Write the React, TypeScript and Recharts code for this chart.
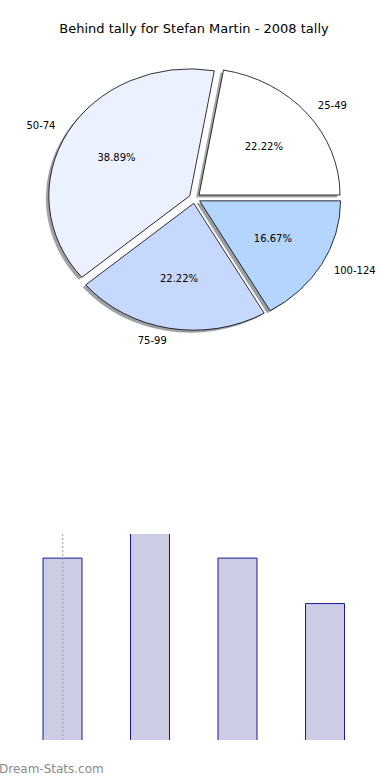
import React from "react";
import { PieChart, Pie, Cell, BarChart, Bar, XAxis, YAxis, ReferenceLine } from "recharts";

const TITLE = "Behind tally for Stefan Martin - 2008 tally";
const categories = ["25-49", "50-74", "75-99", "100-124"];
const counts = [4, 7, 4, 3];
const sliceColors = ["#ffffff", "#ebf1fe", "#c6d8fe", "#b4d5fe"];
const barMax = 4.53;

const pieData = categories.map((name, i) => ({ name, value: counts[i] }));

const FONT = "DejaVu Sans, sans-serif";
const RY = 0.9; // pie is squashed vertically
const EXPLODE = 0.04;
const RAD = Math.PI / 180;

function shade(hex: string) {
  const n = parseInt(hex.slice(1), 16);
  const r = Math.round(((n >> 16) & 255) * 0.3);
  const g = Math.round(((n >> 8) & 255) * 0.3);
  const b = Math.round((n & 255) * 0.3);
  return `rgb(${r},${g},${b})`;
}

function wedgePath(ox: number, oy: number, rx: number, ry: number, a0: number, a1: number) {
  const p = (a: number) => [ox + rx * Math.cos(a * RAD), oy - ry * Math.sin(a * RAD)];
  const [x0, y0] = p(a0);
  const [x1, y1] = p(a1);
  const large = a1 - a0 > 180 ? 1 : 0;
  return `M${ox},${oy} L${x0},${y0} A${rx},${ry} 0 ${large} 0 ${x1},${y1} Z`;
}

function EllipseWedge(props: any) {
  const { cx, cy, outerRadius, startAngle, endAngle, fill } = props;
  const a0 = Math.min(startAngle, endAngle);
  const a1 = Math.max(startAngle, endAngle);
  const mid = (a0 + a1) / 2;
  const rx = outerRadius;
  const ry = outerRadius * RY;
  const ox = cx + EXPLODE * rx * Math.cos(mid * RAD);
  const oy = cy - EXPLODE * ry * Math.sin(mid * RAD);
  return (
    <g>
      <path d={wedgePath(ox - 3, oy + 2.5, rx, ry, a0, a1)} fill={shade(fill)} fillOpacity={0.5} stroke="none" />
      <path d={wedgePath(ox, oy, rx, ry, a0, a1)} fill={fill} stroke="#000" strokeWidth={0.8} strokeLinejoin="round" />
    </g>
  );
}

function renderLabel(props: any) {
  const { cx, cy, midAngle, outerRadius, percent, name } = props;
  const rx = outerRadius;
  const ry = outerRadius * RY;
  const c = Math.cos(midAngle * RAD);
  const s = Math.sin(midAngle * RAD);
  const lx = cx + (1.1 + EXPLODE) * rx * c;
  const ly = cy - (1.1 + EXPLODE) * ry * s;
  const px = cx + (0.6 + EXPLODE) * rx * c;
  const py = cy - (0.6 + EXPLODE) * ry * s;
  return (
    <g>
      <text x={lx} y={ly} textAnchor={c >= 0 ? "start" : "end"} dominantBaseline="central" fontSize={10} fontFamily={FONT} fill="#000">
        {name}
      </text>
      <text x={px} y={py} textAnchor="middle" dominantBaseline="central" fontSize={10} fontFamily={FONT} fill="#000">
        {(percent * 100).toFixed(2)}%
      </text>
    </g>
  );
}

function BarShape(props: any) {
  const { x, y, width, height, fill } = props;
  return (
    <g>
      <rect x={x} y={y} width={width} height={height} fill={fill} />
      <path d={`M${x},${y + height} L${x},${y} L${x + width},${y} L${x + width},${y + height}`} fill="none" stroke="#1a1a9c" strokeWidth={1} />
    </g>
  );
}

export default function App() {
  return (
    <div style={{ position: "relative", width: 390, height: 780, background: "#fff", overflow: "hidden", fontFamily: FONT }}>
      <style>{`body{margin:0}`}</style>
      <div style={{ position: "absolute", top: 21, left: 0, width: 388, textAlign: "center", fontSize: 13, color: "#000" }}>
        {TITLE}
      </div>

      <div style={{ position: "absolute", top: 0, left: 0 }}>
        <PieChart width={390} height={360} margin={{ top: 0, right: 0, bottom: 0, left: 0 }}>
          <Pie
            data={pieData}
            dataKey="value"
            nameKey="name"
            cx={194.7}
            cy={198.3}
            outerRadius={141}
            startAngle={0}
            endAngle={360}
            stroke="none"
            shape={EllipseWedge}
            label={renderLabel}
            labelLine={false}
            isAnimationActive={false}
          >
            {pieData.map((d, i) => (
              <Cell key={d.name} fill={sliceColors[i]} />
            ))}
          </Pie>
        </PieChart>
      </div>

      <div style={{ position: "absolute", top: 520, left: 0 }}>
        <BarChart width={390} height={240} data={pieData} margin={{ top: 14, right: 21, bottom: 20, left: 19 }}>
          <XAxis dataKey="name" hide />
          <YAxis hide domain={[0, barMax]} allowDataOverflow />
          <Bar dataKey="value" fill="#ccccE5" barSize={39} shape={BarShape} isAnimationActive={false} />
          <ReferenceLine x="25-49" stroke="#9a9a9a" strokeDasharray="2 2" strokeWidth={1} />
        </BarChart>
      </div>

      <div style={{ position: "absolute", top: 762, left: -1, fontSize: 12, color: "#8a8a8a", whiteSpace: "nowrap" }}>
        Dream-Stats.com
      </div>
    </div>
  );
}
